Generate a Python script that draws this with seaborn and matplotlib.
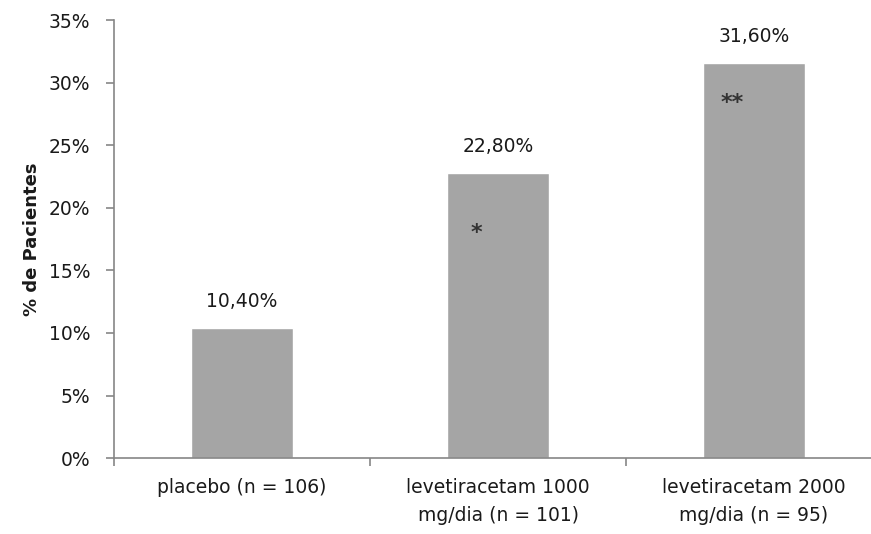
import matplotlib
matplotlib.use('Agg')
import matplotlib.pyplot as plt
import seaborn as sns
import pandas as pd
from matplotlib.ticker import FixedLocator, FuncFormatter

# --- Data ---
categories = ['placebo (n = 106)',
              'levetiracetam 1000\nmg/dia (n = 101)',
              'levetiracetam 2000\nmg/dia (n = 95)']
values = [10.4, 22.8, 31.6]
value_labels = ['10,40%', '22,80%', '31,60%']
markers = ['', '*', '**']
marker_heights = [0, 18.0, 28.4]
y_ticks = [0, 5, 10, 15, 20, 25, 30, 35]

sns.set_theme(style='white')
plt.rcParams['font.family'] = ['DejaVu Sans']

df = pd.DataFrame({'Grupo': categories, 'Pct': values})

fig = plt.figure(figsize=(8.71, 5.34), dpi=100)
ax = fig.add_axes([0.131, 0.142, 0.869, 0.8205])

sns.barplot(data=df, x='Grupo', y='Pct', color='#a5a5a5', width=0.4,
            saturation=1, ax=ax)

axis_col = '#868686'
text_col = '#1a1a1a'
ax.set_ylim(0, 35)
ax.set_xlim(-0.5, 2.457)
ax.yaxis.set_major_locator(FixedLocator(y_ticks))
ax.yaxis.set_major_formatter(FuncFormatter(lambda v, _: f'{v:.0f}%'))

for side in ['top', 'right']:
    ax.spines[side].set_visible(False)
for side in ['left', 'bottom']:
    ax.spines[side].set_color(axis_col)
    ax.spines[side].set_linewidth(1.2)

# category boundary ticks on x, labels centered under bars
ax.xaxis.set_minor_locator(FixedLocator([-0.5, 0.5, 1.5, 2.5]))
ax.tick_params(axis='x', which='major', length=0, pad=14, labelsize=13.5,
               labelcolor=text_col)
ax.tick_params(axis='x', which='minor', length=6, width=1.2, color=axis_col,
               direction='out', bottom=True)
ax.tick_params(axis='y', length=6, width=1.2, color=axis_col, direction='out',
               left=True, labelsize=13.5, labelcolor=text_col, pad=11)
for t in ax.get_xticklabels():
    t.set_linespacing(1.6)

ax.set_xlabel('')
ax.set_ylabel('% de Pacientes', fontsize=13, fontweight='bold',
              color=text_col, labelpad=6)

for i, (v, lab) in enumerate(zip(values, value_labels)):
    ax.annotate(lab, (i, v), xytext=(0, 12), textcoords='offset points',
                ha='center', va='bottom', fontsize=13.5, color=text_col)

for i, (m, h) in enumerate(zip(markers, marker_heights)):
    if m:
        ax.text(i - 0.085, h, m, ha='center', va='center', fontsize=16,
                fontweight='bold', color='#333333')

plt.savefig('out.png', dpi=100)
